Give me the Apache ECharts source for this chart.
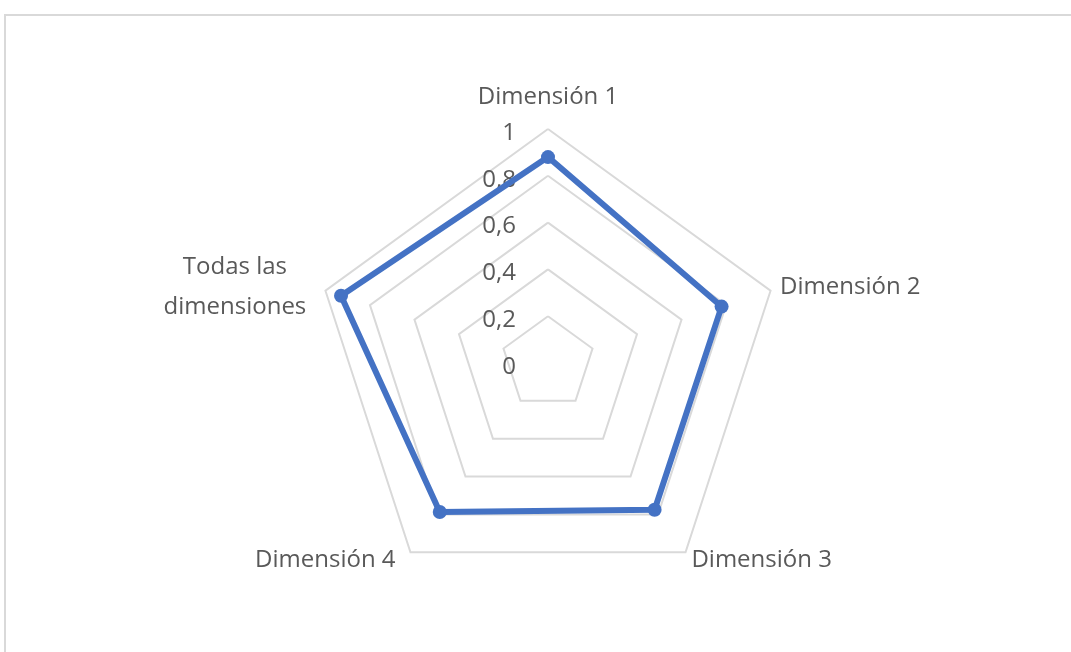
<!DOCTYPE html>
<html>
<head>
<meta charset="utf-8">
<script src="https://cdn.jsdelivr.net/npm/echarts@6/dist/echarts.min.js"></script>
<style>
  html, body { margin: 0; padding: 0; background: #fff; }
  #main { width: 1071px; height: 652px; }
</style>
</head>
<body>
<div id="main"></div>
<script>
// ejes del radar (en sentido horario desde arriba)
var dimensiones = ['Dimensión 1', 'Dimensión 2', 'Dimensión 3', 'Dimensión 4', 'Todas las\ndimensiones'];
var valores = [0.88, 0.78, 0.775, 0.787, 0.93];
var maximo = 1;

// echarts dibuja el radar en sentido antihorario: invertir el orden tras el primero
var orden = [0, 4, 3, 2, 1];

var gris = '#595959';
var fuente = { color: gris, fontSize: 24, fontFamily: 'Open Sans' };

var myChart = echarts.init(document.getElementById('main'));
myChart.setOption({
  animation: false,
  textStyle: { fontFamily: 'Open Sans' },
  graphic: [{
    type: 'rect',
    shape: { x: 5, y: 15, width: 1200, height: 800 },
    style: { fill: 'none', stroke: '#d9d9d9', lineWidth: 2 }
  }],
  radar: {
    center: [548, 363],
    radius: 234,
    startAngle: 90,
    splitNumber: 5,
    shape: 'polygon',
    indicator: orden.map(function (i) {
      return { name: dimensiones[i], max: maximo, min: 0 };
    }),
    axisName: Object.assign({
      formatter: function (n) {
        if (n.indexOf('\n') >= 0) {
          return n.split('\n').map(function (l) { return '{c|' + l + '}'; }).join('\n');
        }
        if (n === dimensiones[0]) return '{t|' + n + '}';
        if (n === dimensiones[3]) return '{l|' + n + '}';
        return n;
      },
      rich: {
        c: Object.assign({ width: 152, align: 'center', lineHeight: 40, padding: [0, 5, 0, 0] }, fuente),
        t: Object.assign({ padding: [0, 0, 10, 0] }, fuente),
        l: Object.assign({ padding: [0, 9, 0, 0] }, fuente)
      }
    }, fuente),
    nameGap: 10,
    axisLine: { show: false },
    axisTick: { show: false },
    splitArea: { show: false },
    splitLine: { lineStyle: { color: '#d9d9d9', width: 2 } },
    axisLabel: { show: false }
  },
  series: [{
    type: 'radar',
    symbol: 'circle',
    symbolSize: 14,
    lineStyle: { color: '#4472c4', width: 6 },
    itemStyle: { color: '#4472c4' },
    data: [{ value: orden.map(function (i) { return valores[i]; }) }]
  }]
});

// etiquetas del eje (solo en la primera dimensión)
var opt = myChart.getOption();
opt.radar[0].indicator[0].axisLabel = Object.assign({
  show: true,
  margin: 32,
  formatter: function (v) { return '{v|' + String(v).replace('.', ',') + '}'; },
  rich: { v: Object.assign({ padding: [8, 0, 0, 0] }, fuente) }
}, fuente);
myChart.setOption({ radar: opt.radar });
</script>
</body>
</html>
